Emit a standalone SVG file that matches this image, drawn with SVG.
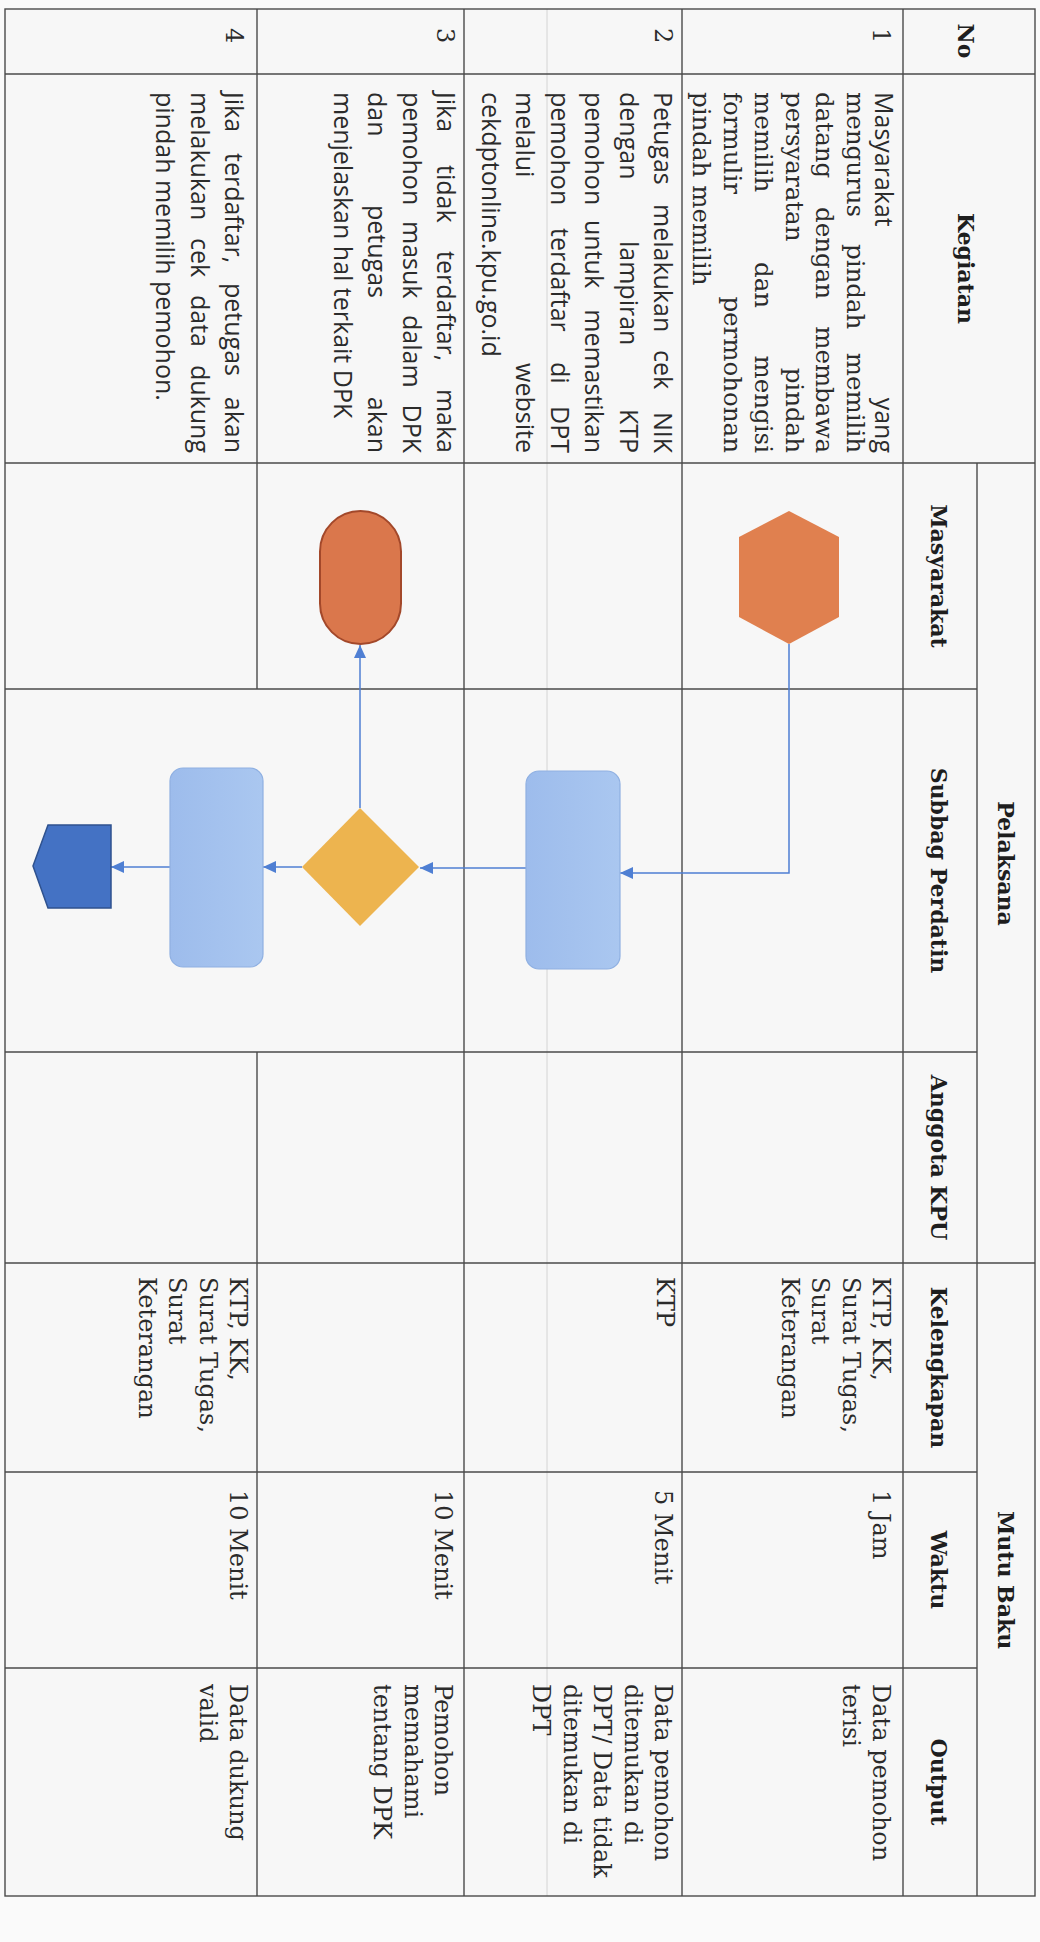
<svg xmlns="http://www.w3.org/2000/svg" width="1040" height="1942" viewBox="0 0 1040 1942">
<defs>
<style>
.h{font-family:"DejaVu Serif",serif;font-weight:bold;font-size:22px;fill:#1e1e1e}
.s{font-family:"Open Sans","Liberation Sans",sans-serif;font-size:25px;fill:#2b2b2b}
.r{font-family:"DejaVu Serif","Liberation Serif",serif;font-size:24px;fill:#2b2b2b}
.r1{font-family:"DejaVu Serif","Liberation Serif",serif;font-size:24.5px;fill:#2b2b2b}
.ln{stroke:#4a4a4a;stroke-width:1.4;fill:none}
.faint{stroke:#d4d4d4;stroke-width:1;fill:none}
.conn{stroke:#4f7fd3;stroke-width:1.5;fill:none;marker-end:url(#arr)}
</style>
<marker id="arr" markerUnits="userSpaceOnUse" markerWidth="14" markerHeight="12" refX="13" refY="6" orient="auto">
<path d="M0,0 L13,6 L0,12 z" fill="#4f7fd3"/>
</marker>
<linearGradient id="blue" x1="0" y1="0" x2="1" y2="0">
<stop offset="0" stop-color="#9dbcec"/>
<stop offset="1" stop-color="#aac7f0"/>
</linearGradient>
</defs>
<rect x="0" y="0" width="1040" height="1942" fill="#fafafa"/>
<rect x="5" y="9" width="1030" height="1887" fill="#f7f7f7"/>

<g id="table">
<line class="faint" x1="547" y1="9" x2="547" y2="1896"/>
<rect class="ln" x="5" y="9" width="1030" height="1887"/>
<line class="ln" x1="5" y1="74" x2="1035" y2="74"/>
<line class="ln" x1="5" y1="463" x2="1035" y2="463"/>
<line class="ln" x1="5" y1="689" x2="977" y2="689"/>
<line class="ln" x1="5" y1="1052" x2="977" y2="1052"/>
<line class="ln" x1="5" y1="1263" x2="1035" y2="1263"/>
<line class="ln" x1="5" y1="1472" x2="977" y2="1472"/>
<line class="ln" x1="5" y1="1668" x2="977" y2="1668"/>
<line class="ln" x1="903" y1="9" x2="903" y2="1896"/>
<line class="ln" x1="977" y1="463" x2="977" y2="1896"/>
<line class="ln" x1="682" y1="9" x2="682" y2="1896"/>
<line class="ln" x1="464" y1="9" x2="464" y2="1896"/>
<line class="ln" x1="257" y1="9" x2="257" y2="689"/>
<line class="ln" x1="257" y1="1052" x2="257" y2="1896"/>
</g>

<g id="headers">
<text class="h" text-anchor="middle" transform="translate(958 41) rotate(90)">No</text>
<text class="h" text-anchor="middle" transform="translate(958 268.5) rotate(90)">Kegiatan</text>
<text class="h" text-anchor="middle" transform="translate(998 863.5) rotate(90)">Pelaksana</text>
<text class="h" text-anchor="middle" transform="translate(998 1580) rotate(90)">Mutu Baku</text>
<text class="h" text-anchor="middle" transform="translate(931 576) rotate(90)">Masyarakat</text>
<text class="h" text-anchor="middle" transform="translate(931 870.5) rotate(90)">Subbag Perdatin</text>
<text class="h" text-anchor="middle" transform="translate(931 1157.5) rotate(90)">Anggota KPU</text>
<text class="h" text-anchor="middle" transform="translate(931 1367.5) rotate(90)">Kelengkapan</text>
<text class="h" text-anchor="middle" transform="translate(931 1570) rotate(90)">Waktu</text>
<text class="h" text-anchor="middle" transform="translate(931 1782) rotate(90)">Output</text>
</g>

<g id="col-no">
<text class="r" transform="translate(873 28) rotate(90)">1</text>
<text class="r" transform="translate(655 28) rotate(90)">2</text>
<text class="r" transform="translate(437 28) rotate(90)">3</text>
<text class="r" transform="translate(226 28) rotate(90)">4</text>
</g>

<g id="col-kegiatan">
<text class="s" transform="translate(875 92) rotate(90)">Masyarakat</text>
<text class="s" text-anchor="end" transform="translate(875 453) rotate(90)">yang</text>
<text class="r1" transform="translate(847 92) rotate(90)">mengurus</text>
<text class="r1" transform="translate(847 244) rotate(90)">pindah</text>
<text class="r1" text-anchor="end" transform="translate(847 453) rotate(90)">memilih</text>
<text class="r1" transform="translate(816 92) rotate(90)">datang</text>
<text class="r1" transform="translate(816 207) rotate(90)">dengan</text>
<text class="r1" text-anchor="end" transform="translate(816 453) rotate(90)">membawa</text>
<text class="r1" transform="translate(786 92) rotate(90)">persyaratan</text>
<text class="r1" text-anchor="end" transform="translate(786 453) rotate(90)">pindah</text>
<text class="r1" transform="translate(755 92) rotate(90)">memilih</text>
<text class="r1" transform="translate(755 262) rotate(90)">dan</text>
<text class="r1" text-anchor="end" transform="translate(755 453) rotate(90)">mengisi</text>
<text class="r1" transform="translate(724 92) rotate(90)">formulir</text>
<text class="r1" text-anchor="end" transform="translate(724 453) rotate(90)">permohonan</text>
<text class="r1" transform="translate(693 92) rotate(90)">pindah memilih</text>
<text class="s" transform="translate(654 92) rotate(90)">Petugas</text>
<text class="s" transform="translate(654 204) rotate(90)">melakukan</text>
<text class="s" transform="translate(654 350) rotate(90)">cek</text>
<text class="s" text-anchor="end" transform="translate(654 453) rotate(90)">NIK</text>
<text class="s" transform="translate(619.5 92) rotate(90)">dengan</text>
<text class="s" transform="translate(619.5 241) rotate(90)">lampiran</text>
<text class="s" text-anchor="end" transform="translate(619.5 453) rotate(90)">KTP</text>
<text class="s" transform="translate(585 92) rotate(90)">pemohon</text>
<text class="s" transform="translate(585 220) rotate(90)">untuk</text>
<text class="s" text-anchor="end" transform="translate(585 453) rotate(90)">memastikan</text>
<text class="s" transform="translate(550.5 92) rotate(90)">pemohon</text>
<text class="s" transform="translate(550.5 228) rotate(90)">terdaftar</text>
<text class="s" transform="translate(550.5 362) rotate(90)">di</text>
<text class="s" text-anchor="end" transform="translate(550.5 453) rotate(90)">DPT</text>
<text class="s" transform="translate(516 92) rotate(90)">melalui</text>
<text class="s" text-anchor="end" transform="translate(516 453) rotate(90)">website</text>
<text class="s" transform="translate(481.5 92) rotate(90)">cekdptonline.kpu.go.id</text>
<text class="s" transform="translate(437 92) rotate(90)">Jika</text>
<text class="s" transform="translate(437 165) rotate(90)">tidak</text>
<text class="s" transform="translate(437 251) rotate(90)">terdaftar,</text>
<text class="s" text-anchor="end" transform="translate(437 453) rotate(90)">maka</text>
<text class="s" transform="translate(402.5 92) rotate(90)">pemohon</text>
<text class="s" transform="translate(402.5 221) rotate(90)">masuk</text>
<text class="s" transform="translate(402.5 315) rotate(90)">dalam</text>
<text class="s" text-anchor="end" transform="translate(402.5 453) rotate(90)">DPK</text>
<text class="s" transform="translate(368 92) rotate(90)">dan</text>
<text class="s" transform="translate(368 205) rotate(90)">petugas</text>
<text class="s" text-anchor="end" transform="translate(368 453) rotate(90)">akan</text>
<text class="s" transform="translate(333.5 92) rotate(90)">menjelaskan hal terkait DPK</text>
<text class="s" transform="translate(225 92) rotate(90)">Jika</text>
<text class="s" transform="translate(225 153) rotate(90)">terdaftar,</text>
<text class="s" transform="translate(225 283) rotate(90)">petugas</text>
<text class="s" text-anchor="end" transform="translate(225 453) rotate(90)">akan</text>
<text class="s" transform="translate(190.5 92) rotate(90)">melakukan</text>
<text class="s" transform="translate(190.5 238) rotate(90)">cek</text>
<text class="s" transform="translate(190.5 295) rotate(90)">data</text>
<text class="s" text-anchor="end" transform="translate(190.5 453) rotate(90)">dukung</text>
<text class="s" transform="translate(156 92) rotate(90)">pindah memilih pemohon.</text>
</g>

<g id="col-kelengkapan">
<text class="r" transform="translate(873 1277) rotate(90)">KTP, KK,</text>
<text class="r" transform="translate(843 1277) rotate(90)">Surat Tugas,</text>
<text class="r" transform="translate(812 1277) rotate(90)">Surat</text>
<text class="r" transform="translate(782 1277) rotate(90)">Keterangan</text>
<text class="r" transform="translate(657 1277) rotate(90)">KTP</text>
<text class="r" transform="translate(230 1277) rotate(90)">KTP, KK,</text>
<text class="r" transform="translate(200 1277) rotate(90)">Surat Tugas,</text>
<text class="r" transform="translate(169 1277) rotate(90)">Surat</text>
<text class="r" transform="translate(139 1277) rotate(90)">Keterangan</text>
</g>

<g id="col-waktu">
<text class="r" transform="translate(873 1490) rotate(90)">1 Jam</text>
<text class="r" transform="translate(655 1490) rotate(90)">5 Menit</text>
<text class="r" transform="translate(435 1490) rotate(90)">10 Menit</text>
<text class="r" transform="translate(230 1490) rotate(90)">10 Menit</text>
</g>

<g id="col-output">
<text class="r" transform="translate(873 1684) rotate(90)">Data pemohon</text>
<text class="r" transform="translate(843 1684) rotate(90)">terisi</text>
<text class="r" transform="translate(655 1684) rotate(90)">Data pemohon</text>
<text class="r" transform="translate(625 1684) rotate(90)">ditemukan di</text>
<text class="r" transform="translate(594 1684) rotate(90)">DPT/ Data tidak</text>
<text class="r" transform="translate(564 1684) rotate(90)">ditemukan di</text>
<text class="r" transform="translate(533 1684) rotate(90)">DPT</text>
<text class="r" transform="translate(435 1684) rotate(90)">Pemohon</text>
<text class="r" transform="translate(405 1684) rotate(90)">memahami</text>
<text class="r" transform="translate(374 1684) rotate(90)">tentang DPK</text>
<text class="r" transform="translate(230 1684) rotate(90)">Data dukung</text>
<text class="r" transform="translate(200 1684) rotate(90)">valid</text>
</g>

<g id="connectors">
<polyline class="conn" points="789,644 789,873 620,873"/>
<line class="conn" x1="526" y1="868" x2="420" y2="868"/>
<line class="conn" x1="360" y1="808" x2="360" y2="645"/>
<line class="conn" x1="302" y1="867" x2="263" y2="867"/>
<line class="conn" x1="170" y1="867" x2="111" y2="867"/>
</g>

<g id="n-start">
<polygon points="789,511 839,537 839,617 789,644 739,617 739,537" fill="#e0804f"/>
</g>
<g id="n-cek-nik">
<rect x="526" y="771" width="94" height="198" rx="13" fill="url(#blue)" stroke="#8fb0e2" stroke-width="1.2"/>
</g>
<g id="n-decision">
<polygon points="360,808 419,867 360,926 302,867" fill="#edb44f"/>
</g>
<g id="n-dpk">
<rect x="320" y="511" width="81" height="133" rx="40.5" fill="#da774c" stroke="#a3482a" stroke-width="2"/>
</g>
<g id="n-cek-data">
<rect x="170" y="768" width="93" height="199" rx="13" fill="url(#blue)" stroke="#8fb0e2" stroke-width="1.2"/>
</g>
<g id="n-offpage">
<polygon points="111,825 111,908 48,908 33,866 48,825" fill="#4472c4" stroke="#2f528f" stroke-width="1.5"/>
</g>
</svg>
